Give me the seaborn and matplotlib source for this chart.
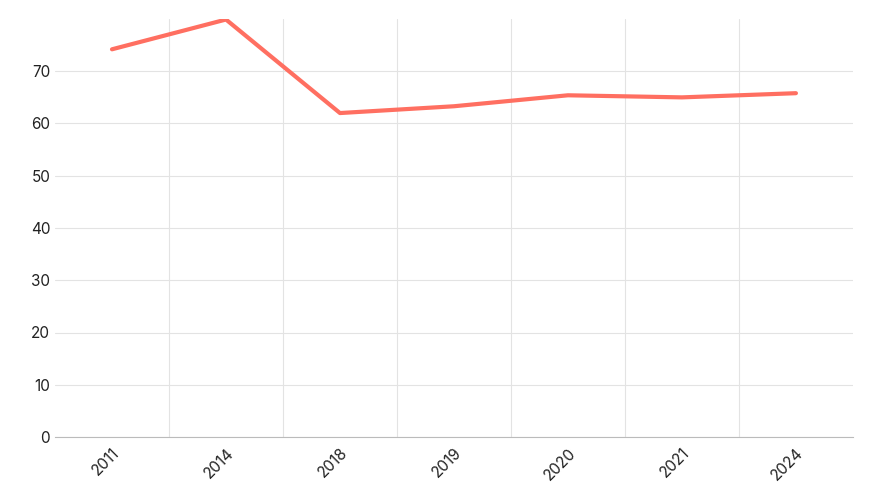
import matplotlib
matplotlib.use("Agg")
import matplotlib.pyplot as plt
import seaborn as sns
import pandas as pd
from matplotlib.ticker import FixedLocator

years = ["2011", "2014", "2018", "2019", "2020", "2021", "2024"]
values = [74.2, 79.9, 62.0, 63.3, 65.4, 65.0, 65.8]

sns.set_style("white")
plt.rcParams['font.family'] = ['Inter', 'DejaVu Sans']

fig = plt.figure(figsize=(8.73, 5), dpi=100)
ax = fig.add_axes([0.063, 0.126, 0.914, 0.836])
df = pd.DataFrame({"year": years, "value": values})
sns.lineplot(data=df, x="year", y="value", ax=ax, color="#FF6F61", linewidth=3)

ax.set_xlim(-0.5, 6.5)
ax.set_ylim(0, 80)
ax.set_yticks(range(0, 80, 10))
ax.xaxis.set_minor_locator(FixedLocator([i + 0.5 for i in range(6)]))
ax.grid(axis="y", which="major", color="#e3e3e3", linewidth=0.8)
ax.grid(axis="x", which="minor", color="#e3e3e3", linewidth=0.8)
ax.set_axisbelow(True)
for s in ["top", "right", "left"]:
    ax.spines[s].set_visible(False)
ax.spines["bottom"].set_color("#bbbbbb")
ax.tick_params(axis="both", which="both", length=0, labelsize=11, colors="#222222")
ax.tick_params(axis="x", which="major", pad=6)
plt.setp(ax.get_xticklabels(), rotation=45, ha="right", rotation_mode="anchor")
ax.set_xlabel("")
ax.set_ylabel("")
fig.savefig("out.png", dpi=100)
